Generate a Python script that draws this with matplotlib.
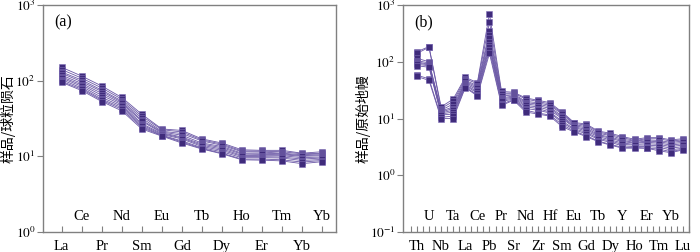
import matplotlib
matplotlib.use('Agg')
import matplotlib.pyplot as plt
import matplotlib.transforms as mtransforms
import numpy as np

plt.rcParams['font.family'] = ['Liberation Serif', 'Noto Sans CJK SC']
plt.rcParams['mathtext.fontset'] = 'stix'

# (a) chondrite-normalised REE
ree_labels = ['La', 'Ce', 'Pr', 'Nd', 'Sm', 'Eu', 'Gd', 'Tb', 'Dy', 'Ho', 'Er', 'Tm', 'Yb', 'Yb']
ree_samples = [
    [150, 115, 85, 60, 36, 23.0, 22.0, 17.0, 15.0, 12.2, 12.0, 12.0, 11.0, 11.5],
    [140, 108, 80, 57, 34, 22.5, 21.0, 16.5, 14.5, 11.8, 11.7, 11.5, 10.8, 11.0],
    [130, 102, 75, 54, 32, 21.5, 20.0, 16.0, 14.0, 11.5, 11.4, 11.0, 10.5, 10.8],
    [125, 97, 72, 52, 30, 21.0, 19.0, 15.0, 13.5, 11.0, 11.0, 10.8, 10.2, 10.5],
    [118, 92, 68, 50, 29, 20.5, 18.0, 14.5, 13.0, 10.7, 10.6, 10.5, 10.0, 10.2],
    [112, 88, 64, 48, 27, 20.0, 17.5, 14.0, 12.5, 10.3, 10.2, 10.2, 9.6, 9.8],
    [108, 84, 60, 46, 26, 19.5, 17.0, 13.5, 12.0, 10.0, 9.9, 9.8, 9.2, 9.5],
    [103, 80, 57, 44, 25, 19.0, 16.0, 13.0, 11.5, 9.6, 9.6, 9.5, 8.8, 9.1],
    [98, 77, 55, 42, 24, 18.8, 15.5, 12.7, 11.0, 9.2, 9.2, 9.0, 8.4, 8.8],
    [95, 74, 53, 40, 23, 18.5, 15.0, 12.5, 10.8, 9.0, 8.9, 8.7, 8.0, 8.5],
]

# (b) primitive-mantle-normalised trace elements
te_labels = ['Th', 'U', 'Nb', 'Ta', 'La', 'Ce', 'Pb', 'Pr', 'Sr', 'Nd', 'Zr', 'Hf',
             'Sm', 'Eu', 'Gd', 'Tb', 'Dy', 'Y', 'Ho', 'Er', 'Tm', 'Yb', 'Lu']
te_samples = [
    [150, 185, 16.0, 22, 53, 43, 700, 30, 29, 23, 21.0, 19.0, 13.0, 8.5, 8.0, 6.0, 5.5, 4.8, 4.3, 4.6, 4.6, 4.2, 4.4],
    [140, 180, 15.0, 20, 50, 41, 500, 28, 28, 22, 20.0, 18.0, 12.5, 8.2, 7.6, 5.8, 5.2, 4.6, 4.1, 4.4, 4.4, 4.0, 4.2],
    [115, 100, 14.0, 18, 47, 38, 350, 27, 27, 20, 19.0, 17.0, 12.0, 7.8, 7.2, 5.5, 5.0, 4.3, 4.0, 4.2, 4.1, 3.8, 4.0],
    [105, 95, 13.5, 16, 45, 36, 300, 25, 26, 19, 18.0, 16.0, 11.0, 7.5, 6.8, 5.2, 4.7, 4.1, 3.8, 4.0, 3.9, 3.6, 3.8],
    [100, 90, 13.0, 15, 43, 34, 260, 23, 25, 18, 17.0, 15.0, 10.5, 7.2, 6.4, 5.0, 4.5, 3.9, 3.7, 3.8, 3.7, 3.4, 3.6],
    [95, 88, 12.5, 14, 41, 32, 220, 22, 24, 17, 16.0, 14.0, 10.0, 7.0, 6.0, 4.8, 4.2, 3.7, 3.5, 3.6, 3.5, 3.2, 3.4],
    [90, 85, 12.0, 13, 39, 30, 200, 21, 23, 16, 15.0, 13.0, 9.0, 6.6, 5.7, 4.5, 4.0, 3.5, 3.4, 3.4, 3.3, 3.0, 3.2],
    [85, 80, 11.5, 12, 38, 28, 180, 20, 22, 15, 14.0, 12.5, 8.5, 6.3, 5.4, 4.3, 3.8, 3.3, 3.2, 3.2, 3.1, 2.8, 3.0],
    [58, 50, 10.5, 11, 36, 26, 160, 18, 21.5, 14, 12.5, 11.5, 7.8, 6.0, 5.0, 4.0, 3.5, 3.1, 3.1, 3.0, 2.9, 2.6, 2.9],
    [55, 47, 10.0, 10, 35, 25, 140, 17, 21, 13, 12.0, 11.0, 7.2, 5.8, 4.8, 3.9, 3.4, 3.0, 3.0, 3.0, 2.7, 2.5, 2.8],
]

marker_color = '#3f2b7b'
line_color = '#6b58a6'
spine_color = '#808080'


def draw_panel(ax, labels, samples, ylim, yticks, ylabel, tag, xlim, half_ticks, label_x):
    x = np.arange(1, len(labels) + 1)
    for s in samples:
        ax.plot(x, s, color=line_color, lw=0.6)
    for s in samples:
        ax.plot(x, s, ls='none', marker='s', ms=5.0, color=marker_color,
                mec='#8070b8', mew=0.4)
    ax.set_yscale('log')
    ax.set_ylim(*ylim)
    ax.set_xlim(*xlim)
    ax.set_yticks(yticks)
    ax.set_yticklabels([r'$10^{%d}$' % int(np.log10(t)) for t in yticks], fontsize=9.5)
    ax.minorticks_off()
    ax.tick_params(axis='y', direction='out', length=4, width=0.8, color=spine_color, pad=1.5)
    # x ticks: labels alternate below / above the axis
    ax.set_xticks(x)
    ax.set_xticklabels([lab if i % 2 == 0 else '' for i, lab in enumerate(labels)], fontsize=10.5)
    ax.tick_params(axis='x', direction='in', length=4, width=0.8, color=spine_color, pad=6)
    if half_ticks:
        ax.set_xticks(np.arange(0.5, len(labels) + 0.6, 1.0), minor=True)
        ax.tick_params(axis='x', which='minor', direction='in', length=4, width=0.8,
                       color=spine_color, bottom=True)
    trans = mtransforms.blended_transform_factory(ax.transData, ax.transAxes)
    for i, lab in enumerate(labels):
        if i % 2 == 1:
            ax.text(x[i], 0.04, lab, transform=trans, ha='center', va='bottom', fontsize=10.5)
    for sp in ax.spines.values():
        sp.set_color(spine_color)
        sp.set_linewidth(1.0)
    ax.set_ylabel(ylabel, fontsize=10, family=['Noto Sans CJK SC'])
    ax.yaxis.set_label_coords(label_x, 0.5)
    ax.text(0.04, 0.96, tag, transform=ax.transAxes, ha='left', va='top', fontsize=11.5)


fig = plt.figure(figsize=(7.0, 2.52), dpi=100)
ax1 = fig.add_axes([43 / 700, 20 / 252, 293 / 700, 227 / 252])
ax2 = fig.add_axes([403 / 700, 20 / 252, 286 / 700, 227 / 252])

draw_panel(ax1, ree_labels, ree_samples, (1, 1000), [1, 10, 100, 1000],
           '样品/球粒陨石', '(a)', (0.065, 14.7), False, -0.095)
draw_panel(ax2, te_labels, te_samples, (0.1, 1000), [0.1, 1, 10, 100, 1000],
           '样品/原始地幔', '(b)', (-0.15, 23.39), True, -0.115)

fig.savefig('out.png', dpi=100)
